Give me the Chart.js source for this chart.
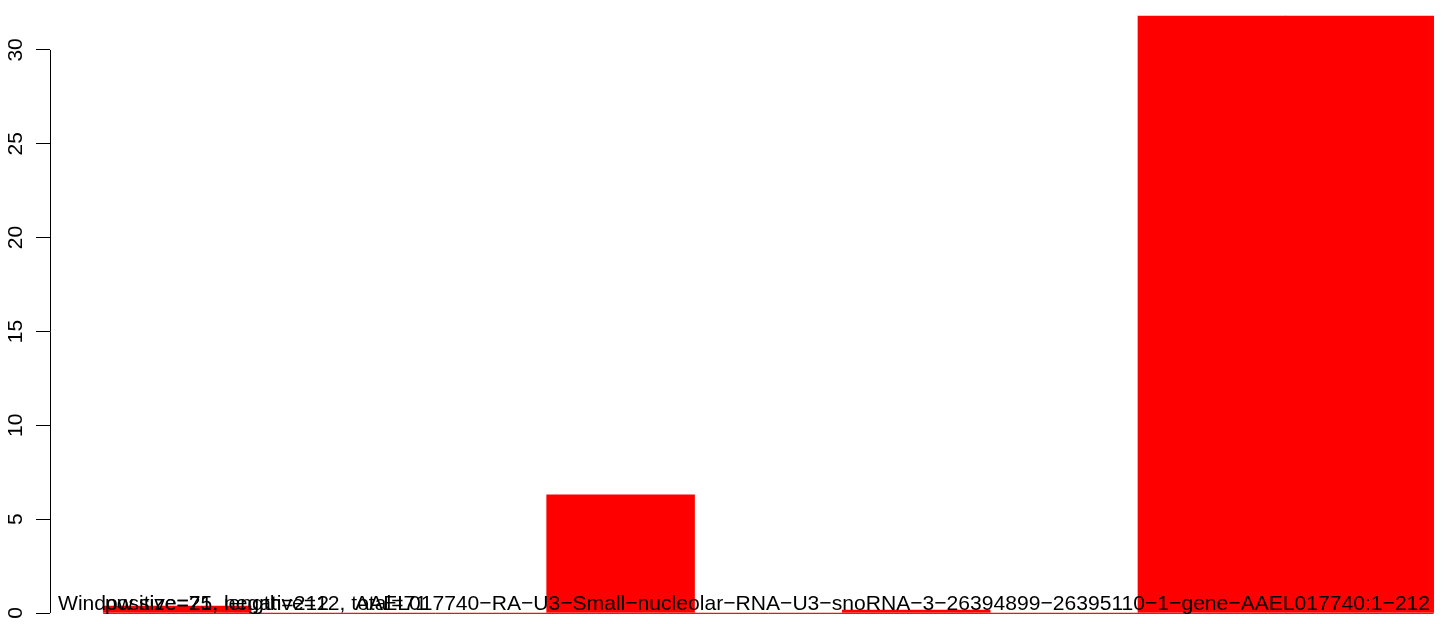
<!DOCTYPE html>
<html>
<head>
<meta charset="utf-8">
<script src="https://cdn.jsdelivr.net/npm/chart.js@4.4.1/dist/chart.umd.min.js"></script>
<style>
    html, body { margin: 0; padding: 0; background: #fff; overflow: hidden; }
    canvas { display: block; }
</style>
</head>
<body>
<canvas id="chartVentanas" width="1444" height="624"></canvas>
<script>
// --- datos ---
const ventanas = [0, 1, 2, 3, 4, 5, 6, 7, 8];           // posicion de cada ventana
const valores = [0.37, 0, 0, 6.3, 0, 0.16, 0, 31.8, 31.8];
const bordesX = [0, 1, 2, 3, 4, 5, 6, 7, 8, 9];
const ticksY = [0, 5, 10, 15, 20, 25, 30];
const textosPie = [
    { texto: 'Window size=25, length=212', x: 58 },
    { texto: 'positive=71, negative=12, total=71', x: 105 },
    { texto: 'AAEL017740\u2212RA\u2212U3\u2212Small\u2212nucleolar\u2212RNA\u2212U3\u2212snoRNA\u22123\u221226394899\u221226395110\u22121\u2212gene\u2212AAEL017740:1\u2212212', x: 355 }
];

const FUENTE = 'Liberation Sans, Arial, Helvetica, sans-serif';

// eje Y, etiquetas y textos al estilo R
const ejeR = {
    id: 'ejeR',
    afterDatasetsDraw(chart) {
        const { ctx, scales: { x, y } } = chart;
        ctx.save();

        // linea gris en cero (barras con valor 0)
        const y0 = Math.round(y.getPixelForValue(0)) + 0.5;
        ctx.strokeStyle = '#555';
        ctx.lineWidth = 1;
        ctx.beginPath();
        ctx.moveTo(x.getPixelForValue(bordesX[0]), y0);
        ctx.lineTo(x.getPixelForValue(bordesX[bordesX.length - 1]), y0);
        ctx.stroke();

        // eje Y de 0 a 30
        const xe = Math.round(chart.chartArea.left) + 0.5;
        ctx.strokeStyle = '#000';
        ctx.beginPath();
        ctx.moveTo(xe, y.getPixelForValue(ticksY[0]));
        ctx.lineTo(xe, y.getPixelForValue(ticksY[ticksY.length - 1]));
        ctx.stroke();

        // etiquetas giradas
        ctx.fillStyle = '#000';
        ctx.font = '21px ' + FUENTE;
        ctx.textAlign = 'center';
        ctx.textBaseline = 'alphabetic';
        ticksY.forEach(v => {
            ctx.save();
            ctx.translate(22, y.getPixelForValue(v));
            ctx.rotate(-Math.PI / 2);
            ctx.fillText(String(v), 0, 0);
            ctx.restore();
        });

        // textos de abajo
        ctx.font = '21.1px ' + FUENTE;
        ctx.textAlign = 'left';
        textosPie.forEach(t => ctx.fillText(t.texto, t.x, 610));
        ctx.restore();
    }
};

const ctx = document.getElementById('chartVentanas');
new Chart(ctx, {
    type: 'bar',
    data: {
        datasets: [{
            data: ventanas.map((v, i) => ({ x: v + 0.5, y: valores[i] })),
            backgroundColor: '#ff0000',
            borderWidth: 0,
            barPercentage: 1,
            categoryPercentage: 1
        }]
    },
    options: {
        responsive: false,
        devicePixelRatio: 1,
        animation: false,
        layout: { padding: { top: 0, bottom: 11, left: 0, right: 0 } },
        plugins: { legend: { display: false }, tooltip: { enabled: false } },
        scales: {
            x: {
                type: 'linear',
                display: false,
                offset: false,
                min: -0.36,
                max: 9.07,
                afterBuildTicks: s => { s.ticks = bordesX.map(v => ({ value: v })); }
            },
            y: {
                min: 0,
                max: 32.66,
                afterBuildTicks: s => { s.ticks = ticksY.map(v => ({ value: v })); },
                afterFit: s => { s.width = 50; s.paddingTop = 0; s.paddingBottom = 0; },
                border: { display: false },
                grid: {
                    drawOnChartArea: false,
                    drawTicks: true,
                    tickLength: 14,
                    color: '#000',
                    lineWidth: 1
                },
                ticks: { display: false }
            }
        }
    },
    plugins: [ejeR]
});
</script>
</body>
</html>
